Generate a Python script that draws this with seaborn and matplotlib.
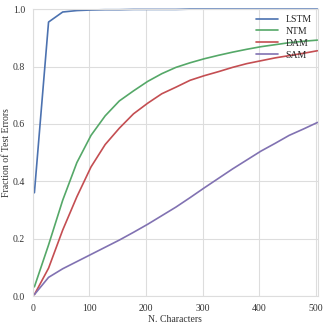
import numpy as np
import pandas as pd
import matplotlib
matplotlib.use('Agg')
import matplotlib.pyplot as plt
import seaborn as sns

sns.set_style('whitegrid')
plt.rcParams['font.family'] = ['Liberation Serif', 'DejaVu Serif']

# sequence lengths (N. characters)
n_chars = [3, 28, 53, 78, 103, 128, 153, 178, 203, 228, 253,
           278, 303, 328, 353, 378, 403, 428, 453, 478, 503]

lstm = [0.36, 0.955, 0.99, 0.995, 0.997, 0.998, 0.998, 0.999, 0.999, 0.999, 0.999,
        1.0, 1.0, 1.0, 1.0, 1.0, 1.0, 1.0, 1.0, 1.0, 1.0]
ntm = [0.032, 0.178, 0.334, 0.465, 0.56, 0.628, 0.68, 0.715, 0.748, 0.775, 0.797,
       0.813, 0.827, 0.839, 0.85, 0.86, 0.869, 0.876, 0.883, 0.888, 0.892]
dam = [0.005, 0.097, 0.23, 0.346, 0.45, 0.528, 0.585, 0.635, 0.672, 0.705, 0.728,
       0.752, 0.768, 0.782, 0.797, 0.81, 0.82, 0.83, 0.838, 0.846, 0.855]
sam = [0.005, 0.065, 0.095, 0.12, 0.145, 0.17, 0.195, 0.222, 0.25, 0.28, 0.31,
       0.343, 0.377, 0.41, 0.443, 0.474, 0.505, 0.532, 0.56, 0.582, 0.605]

models = ['LSTM', 'NTM', 'DAM', 'SAM']
colors = ['#4C72B0', '#55A868', '#C44E52', '#8172B2']

df = pd.DataFrame({'N. Characters': n_chars * 4,
                   'Fraction of Test Errors': lstm + ntm + dam + sam,
                   'model': np.repeat(models, len(n_chars))})

fig = plt.figure(figsize=(3.27, 3.26), dpi=100)
ax = fig.add_axes([0.100, 0.092, 0.871, 0.880])
sns.lineplot(data=df, x='N. Characters', y='Fraction of Test Errors', hue='model',
             palette=colors, linewidth=1.2, ax=ax, clip_on=False)

ax.set_xlim(0, 503)
ax.set_ylim(0, 1.0)
ax.set_xticks([0, 100, 200, 300, 400, 500])
ax.set_yticks([0.0, 0.2, 0.4, 0.6, 0.8, 1.0])
ax.tick_params(labelsize=7, colors='#333333', pad=2)
ax.set_xlabel('N. Characters', fontsize=7, color='#333333', labelpad=2)
ax.set_ylabel('Fraction of Test Errors', fontsize=7, color='#333333', labelpad=1.5)
for s in ax.spines.values():
    s.set_color('#dddddd')
ax.grid(color='#dddddd', linewidth=0.8)

leg = ax.legend(loc='upper right', frameon=False, fontsize=7, handlelength=2.2,
                labelspacing=0.3, borderaxespad=0.2)

fig.savefig('out.png', dpi=100)
